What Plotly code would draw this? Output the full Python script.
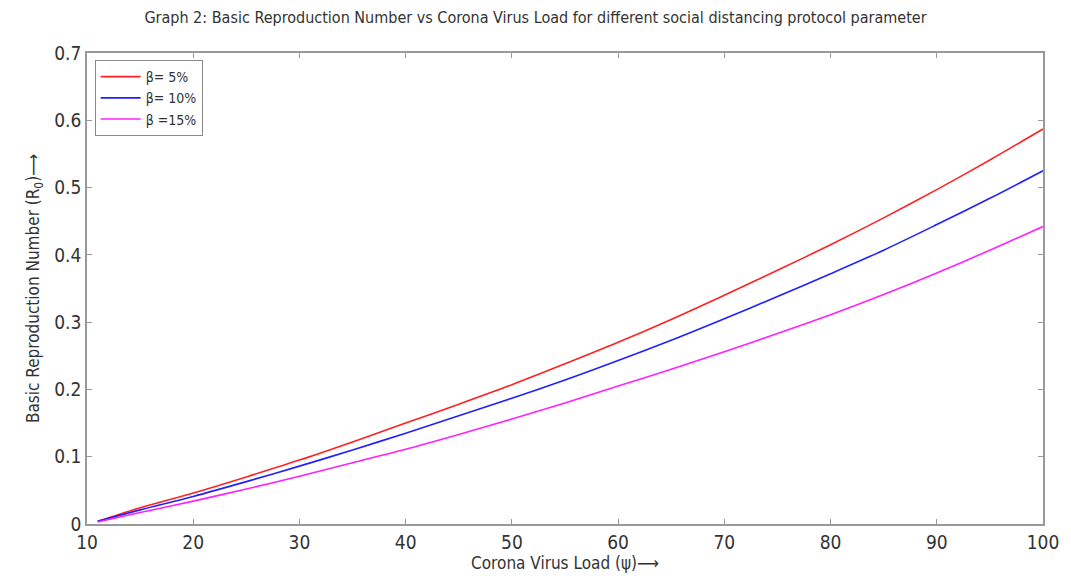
import plotly.graph_objects as go

x_load = [11, 15, 20, 25, 30, 35, 40, 45, 50, 55, 60, 65, 70, 75, 80, 85, 90, 95, 100]
r0_beta5 = [0.004, 0.024, 0.046, 0.070, 0.095, 0.122, 0.150, 0.178, 0.207, 0.238, 0.270, 0.304, 0.340, 0.377, 0.415, 0.455, 0.497, 0.541, 0.587]
r0_beta10 = [0.004, 0.021, 0.041, 0.063, 0.086, 0.110, 0.135, 0.161, 0.187, 0.214, 0.243, 0.273, 0.305, 0.338, 0.372, 0.407, 0.445, 0.484, 0.525]
r0_beta15 = [0.003, 0.017, 0.034, 0.052, 0.071, 0.091, 0.111, 0.133, 0.156, 0.180, 0.205, 0.230, 0.256, 0.283, 0.311, 0.341, 0.373, 0.407, 0.442]

series_names = ["β= 5%", "β= 10%", "β =15%"]
series_colors = ["#ff2020", "#2020ff", "#ff20ff"]

FONT = "Liberation Sans Narrow, DejaVu Sans Condensed, Arial Narrow, sans-serif"
TXT = "#333333"

fig = go.Figure()
for name, ys, col in zip(series_names, [r0_beta5, r0_beta10, r0_beta15], series_colors):
    fig.add_trace(go.Scatter(x=x_load, y=ys, mode="lines", name=name,
                             line=dict(color=col, width=1.6, shape="spline", smoothing=0.8)))

axis_common = dict(showline=True, linecolor="#999999", linewidth=1.5, mirror="ticks",
                   ticks="inside", ticklen=5, tickcolor="#999999", showgrid=False,
                   zeroline=False, tickfont=dict(family=FONT, size=19, color=TXT))

fig.update_layout(
    width=1071, height=582,
    margin=dict(l=87, r=17, t=53, b=58),
    paper_bgcolor="white", plot_bgcolor="white",
    title=dict(text="Graph 2: Basic Reproduction Number vs Corona Virus Load for different social distancing protocol parameter",
               x=0.5, xanchor="center", y=0.97, yanchor="middle",
               font=dict(family=FONT, size=16, color=TXT)),
    xaxis=dict(range=[10, 100], tickvals=[10, 20, 30, 40, 50, 60, 70, 80, 90, 100],
               title=dict(text="Corona Virus Load (ψ)⟶", standoff=2,
                          font=dict(family=FONT, size=17, color=TXT)),
               **axis_common),
    yaxis=dict(range=[0, 0.7], tickvals=[0, 0.1, 0.2, 0.3, 0.4, 0.5, 0.6, 0.7],
               ticktext=["0", "0.1", "0.2", "0.3", "0.4", "0.5", "0.6", "0.7"],
               title=dict(text="Basic Reproduction Number (R<sub>0</sub>)⟶", standoff=10,
                          font=dict(family=FONT, size=17, color=TXT)),
               **axis_common),
    legend=dict(x=0.008, y=0.985, xanchor="left", yanchor="top",
                bgcolor="white", bordercolor="#888888", borderwidth=1,
                font=dict(family=FONT, size=14, color=TXT),
                itemwidth=40, tracegroupgap=2),
    showlegend=True,
)

fig.write_html("out.html")
